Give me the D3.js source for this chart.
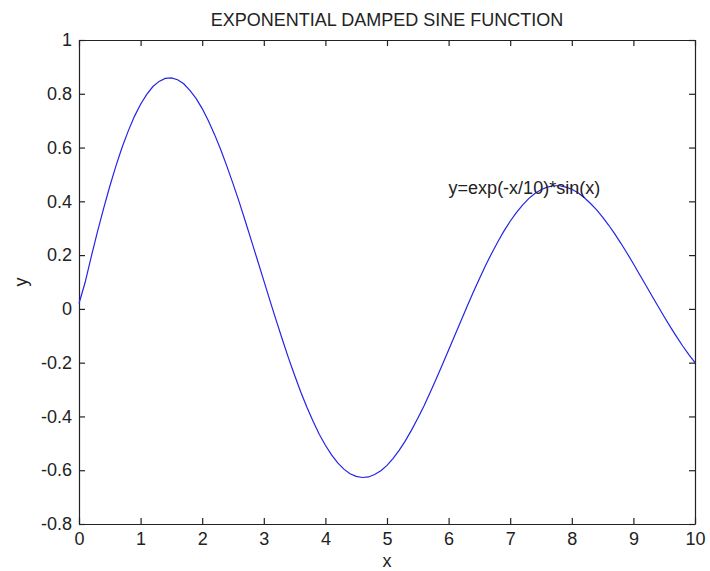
<!DOCTYPE html>
<html>
<head>
<meta charset="utf-8">
<script src="https://cdn.jsdelivr.net/npm/d3@7"></script>
<style>
  body { margin: 0; background: #fff; }
  text { font-family: "Liberation Sans", Arial, sans-serif; fill: #222; }
</style>
</head>
<body>
<div id="chartArea"></div>
<script>
// values
var xValues = [
  0, 0.1, 0.2, 0.3, 0.4, 0.5, 0.6, 0.7, 0.8, 0.9,
  1, 1.1, 1.2, 1.3, 1.4, 1.5, 1.6, 1.7, 1.8, 1.9,
  2, 2.1, 2.2, 2.3, 2.4, 2.5, 2.6, 2.7, 2.8, 2.9,
  3, 3.1, 3.2, 3.3, 3.4, 3.5, 3.6, 3.7, 3.8, 3.9,
  4, 4.1, 4.2, 4.3, 4.4, 4.5, 4.6, 4.7, 4.8, 4.9,
  5, 5.1, 5.2, 5.3, 5.4, 5.5, 5.6, 5.7, 5.8, 5.9,
  6, 6.1, 6.2, 6.3, 6.4, 6.5, 6.6, 6.7, 6.8, 6.9,
  7, 7.1, 7.2, 7.3, 7.4, 7.5, 7.6, 7.7, 7.8, 7.9,
  8, 8.1, 8.2, 8.3, 8.4, 8.5, 8.6, 8.7, 8.8, 8.9,
  9, 9.1, 9.2, 9.3, 9.4, 9.5, 9.6, 9.7, 9.8, 9.9,
  10];
var yValues = [
  0.02, 0.099, 0.195, 0.287, 0.374, 0.456, 0.532, 0.601, 0.662, 0.716,
  0.761, 0.798, 0.827, 0.846, 0.857, 0.859, 0.852, 0.837, 0.813, 0.783,
  0.745, 0.700, 0.649, 0.593, 0.531, 0.466, 0.398, 0.326, 0.253, 0.179,
  0.105, 0.031, -0.042, -0.113, -0.182, -0.247, -0.309, -0.366, -0.418, -0.466,
  -0.507, -0.543, -0.573, -0.596, -0.613, -0.623, -0.627, -0.625, -0.616, -0.602,
  -0.582, -0.556, -0.525, -0.490, -0.450, -0.407, -0.361, -0.311, -0.260, -0.207,
  -0.153, -0.099, -0.045, 0.009, 0.062, 0.112, 0.161, 0.207, 0.250, 0.290,
  0.326, 0.358, 0.386, 0.410, 0.429, 0.443, 0.453, 0.458, 0.458, 0.453,
  0.445, 0.432, 0.414, 0.393, 0.369, 0.341, 0.311, 0.278, 0.243, 0.206,
  0.168, 0.128, 0.089, 0.049, 0.010, -0.029, -0.067, -0.103, -0.138, -0.170,
  -0.200];
var xTicks = [0, 1, 2, 3, 4, 5, 6, 7, 8, 9, 10];
var yTicks = [-0.8, -0.6, -0.4, -0.2, 0, 0.2, 0.4, 0.6, 0.8, 1];
var titleText = "EXPONENTIAL DAMPED SINE FUNCTION";
var xLabel = "x", yLabel = "y";
var noteText = "y=exp(-x/10)*sin(x)";
var notePos = [6, 0.45];

var margin = { top: 40, right: 15, bottom: 47, left: 79 },
  width = 710 - margin.left - margin.right,
  height = 571 - margin.top - margin.bottom;

var x = d3.scaleLinear().domain([0, 10]).range([0, width]);
var y = d3.scaleLinear().domain([-0.8, 1]).range([height, 0]);

var svg = d3.select("#chartArea").append("svg")
  .attr("width", 710)
  .attr("height", 571)
  .append("g")
  .attr("transform", "translate(" + margin.left + "," + margin.top + ")");

function styleAxis(g) {
  g.selectAll("path, line").attr("stroke", "#222").attr("stroke-width", 1.2);
  g.selectAll("text").attr("fill", "#222").style("font-size", "18px")
    .style("font-family", "'Liberation Sans', Arial, sans-serif");
}

// matlab style labels: plain hyphen, no trailing zeros
var plainFormat = function (d) { return String(d); };

svg.append("g")
  .attr("transform", "translate(0," + height + ")")
  .call(d3.axisBottom(x).tickValues(xTicks).tickSizeInner(-6).tickSizeOuter(0).tickPadding(8)
    .tickFormat(plainFormat))
  .call(styleAxis);

svg.append("g")
  .call(d3.axisTop(x).tickValues(xTicks).tickSizeInner(-6).tickSizeOuter(0).tickFormat(""))
  .call(styleAxis);

svg.append("g")
  .call(d3.axisLeft(y).tickValues(yTicks).tickSizeInner(-6).tickSizeOuter(0).tickPadding(7)
    .tickFormat(plainFormat))
  .call(styleAxis);

svg.append("g")
  .attr("transform", "translate(" + width + ",0)")
  .call(d3.axisRight(y).tickValues(yTicks).tickSizeInner(-6).tickSizeOuter(0).tickFormat(""))
  .call(styleAxis);

svg.selectAll(".domain").attr("fill", "none");

var line = d3.line()
  .x(function (d, i) { return x(xValues[i]); })
  .y(function (d) { return y(d); });

svg.append("path")
  .datum(yValues)
  .attr("fill", "none")
  .attr("stroke", "#2424e6")
  .attr("stroke-width", 1.2)
  .attr("d", line);

svg.append("text")
  .attr("x", x(notePos[0]))
  .attr("y", y(notePos[1]))
  .attr("dy", "0.35em")
  .style("font-size", "18px")
  .text(noteText);

svg.append("text")
  .attr("x", width / 2)
  .attr("y", -14)
  .style("text-anchor", "middle")
  .style("font-size", "18px")
  .text(titleText);

svg.append("text")
  .attr("x", width / 2)
  .attr("y", height + 43)
  .style("text-anchor", "middle")
  .style("font-size", "18px")
  .text(xLabel);

svg.append("text")
  .attr("transform", "rotate(-90)")
  .attr("x", -height / 2)
  .attr("y", -52)
  .style("text-anchor", "middle")
  .style("font-size", "18px")
  .text(yLabel);
</script>
</body>
</html>
